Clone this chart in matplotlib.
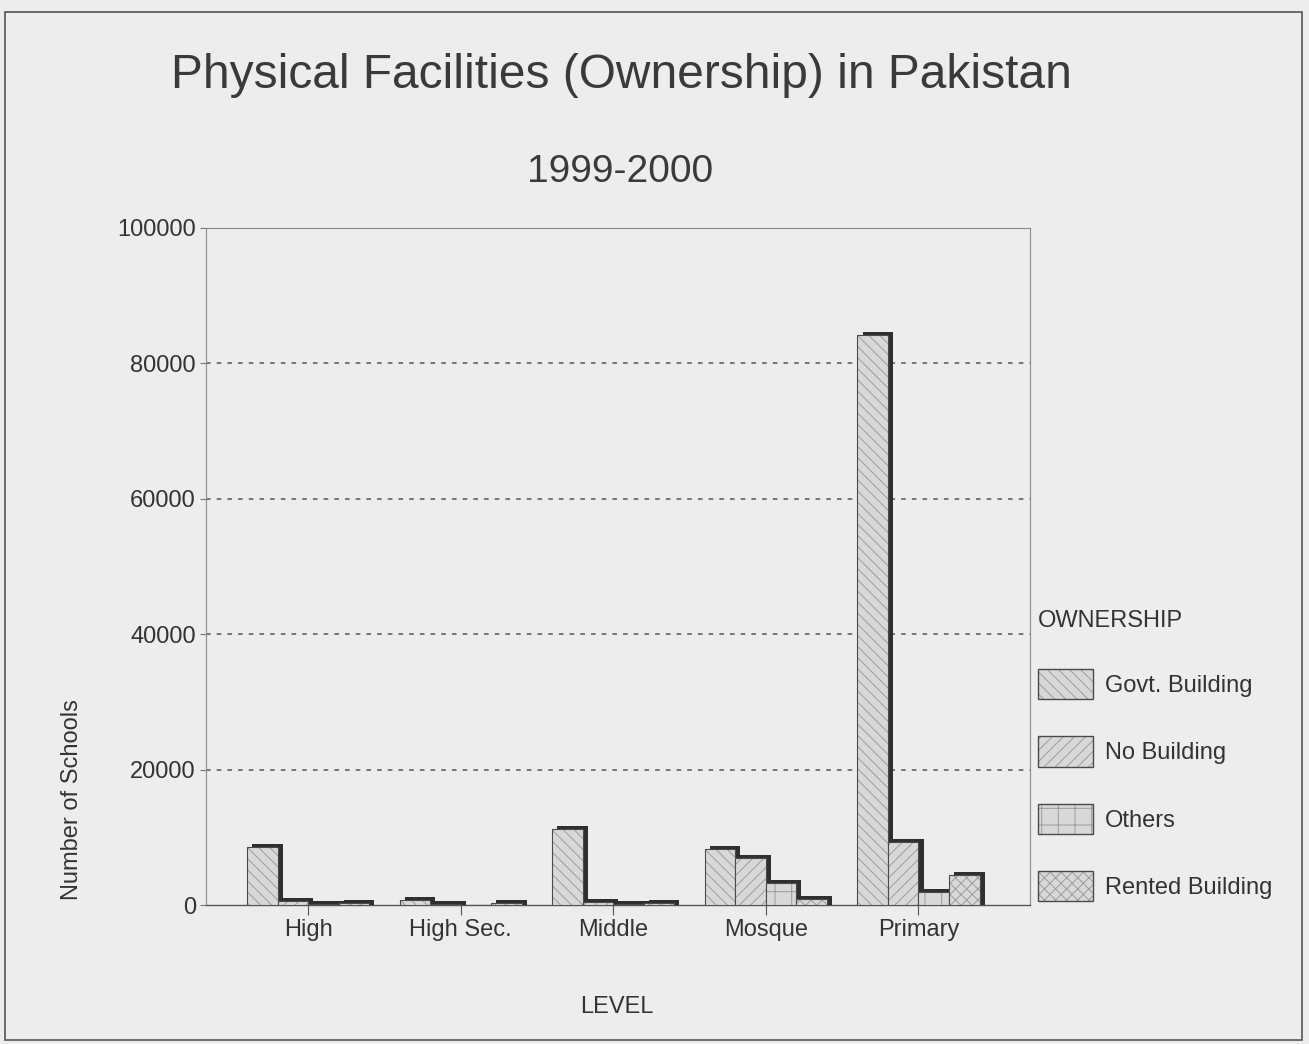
import numpy as np
import matplotlib
matplotlib.use("Agg")
import matplotlib.pyplot as plt
from matplotlib.patches import Patch, Rectangle

plt.rcParams["font.family"] = ["Liberation Sans", "DejaVu Sans"]
plt.rcParams["hatch.linewidth"] = 0.7

# ---------------------------------------------------------------------
# data
# ---------------------------------------------------------------------
levels = ["High", "High Sec.", "Middle", "Mosque", "Primary"]
ownership = ["Govt. Building", "No Building", "Others", "Rented Building"]

govt_building = [8600, 700, 11300, 8300, 84200]
no_building = [600, 200, 500, 6900, 9300]
others = [200, 0, 200, 3300, 2000]
rented_building = [300, 300, 300, 900, 4400]

series = [govt_building, no_building, others, rented_building]
hatches = ["\\\\\\", "///", "+", "xxx"]
y_ticks = [0, 20000, 40000, 60000, 80000, 100000]

BG = "#ededed"
FILL = "#d8d8d8"
HATCH = "#9c9c9c"
EDGE = "#4a4a4a"
SHADOW = "#2f2f2f"
TEXT = "#333333"

fig = plt.figure(figsize=(13.09, 10.44), dpi=100, facecolor=BG)
ax = fig.add_axes([0.157, 0.133, 0.630, 0.649], facecolor=BG)

pos = np.arange(len(levels))
width = 0.2
offsets = [-0.3, -0.1, 0.1, 0.3]

for i, vals in enumerate(series):
    vals = np.array(vals)
    x = pos + offsets[i]
    z = 3 + 3 * i
    # 3D-ish shadow on top/right
    ax.bar(x + 0.033, np.where(vals > 0, vals + 450, 0), width, color=SHADOW,
           linewidth=0, zorder=z)
    ax.bar(x, vals, width, color=FILL, edgecolor=HATCH, hatch=hatches[i],
           linewidth=0, zorder=z + 1)
    ax.bar(x, vals, width, fill=False, edgecolor=EDGE, linewidth=0.8,
           zorder=z + 2)

for t in y_ticks[1:-1]:
    ax.axhline(t, color="#555555", linewidth=1.1, linestyle=(0, (3, 4)), zorder=1)

ax.set_xlim(-0.673, 4.732)
ax.set_ylim(0, 100000)
ax.set_xticks(pos)
ax.set_xticklabels(levels)
ax.set_yticks(y_ticks)
ax.set_yticklabels([str(t) for t in y_ticks])
ax.tick_params(axis="x", length=7, width=0.8, color="#555555", pad=3,
               labelsize=17, labelcolor=TEXT)
ax.tick_params(axis="y", length=4, width=0.8, color="#777777", pad=3,
               labelsize=17, labelcolor=TEXT)

for s in ["top", "right", "left"]:
    ax.spines[s].set_color("#8a8a8a")
    ax.spines[s].set_linewidth(0.8)
ax.spines["bottom"].set_color("#555555")
ax.spines["bottom"].set_linewidth(1.0)

fig.text(0.4745, 0.928, "Physical Facilities (Ownership) in Pakistan",
         ha="center", va="center", fontsize=34.5, color="#3a3a3a")
fig.text(0.4737, 0.835, "1999-2000", ha="center", va="center",
         fontsize=28, color="#3a3a3a")
fig.text(0.4715, 0.035, "LEVEL", ha="center", va="center", fontsize=17,
         color=TEXT)
fig.text(0.055, 0.234, "Number of Schools", ha="center", va="center",
         rotation=90, fontsize=17, color=TEXT)

handles = []
for h in hatches:
    handles.append((Patch(facecolor=FILL, edgecolor=HATCH, hatch=h, linewidth=0),
                    Patch(fill=False, edgecolor=EDGE, linewidth=1.0)))
leg = fig.legend(handles, ownership, title="OWNERSHIP", loc="upper left",
                 bbox_to_anchor=(0.786, 0.425), frameon=False, fontsize=17,
                 title_fontsize=17, handlelength=2.33, handleheight=1.6,
                 labelspacing=1.57, handletextpad=0.5, alignment="left",
                 borderaxespad=0)
for t in leg.get_texts():
    t.set_color(TEXT)
leg.get_title().set_color(TEXT)

fig.add_artist(Rectangle((0.004, 0.004), 0.991, 0.9845, transform=fig.transFigure,
                         fill=False, edgecolor="#555555", linewidth=1.2))

fig.savefig("out.png", dpi=100, facecolor=BG)
